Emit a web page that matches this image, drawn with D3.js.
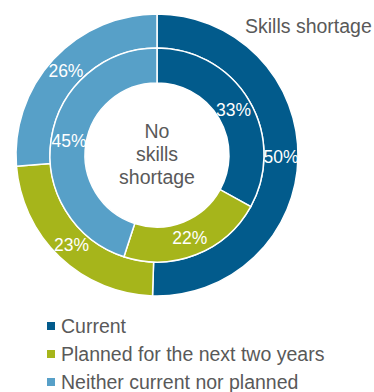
<!DOCTYPE html>
<html><head><meta charset="utf-8">
<script src="https://cdn.jsdelivr.net/npm/d3@7"></script>
<style>html,body{margin:0;padding:0;background:#fff}svg{display:block}</style>
</head><body>
<script>
const categories = ["Current", "Planned for the next two years", "Neither current nor planned"];
const colors = ["#025b8c", "#a6b51b", "#57a0c8"];
const skillsShortage = [50, 23, 26];   // outer ring
const noSkillsShortage = [33, 22, 45]; // inner ring
const outerTitle = "Skills shortage";
const centerLines = ["No", "skills", "shortage"];

const W = 374, H = 392;
const cx = 157, cy = 155;
const svg = d3.select("body").append("svg").attr("width", W).attr("height", H)
  .style("font-family", "'Liberation Sans', Arial, sans-serif");

const pie = d3.pie().sort(null).value(d => d);
const color = d3.scaleOrdinal().domain(d3.range(categories.length)).range(colors);

function ring(values, r0, r1, labelR) {
  const arc = d3.arc().innerRadius(r0).outerRadius(r1);
  const larc = d3.arc().innerRadius(labelR).outerRadius(labelR);
  const g = svg.append("g").attr("transform", `translate(${cx},${cy})`);
  const arcs = pie(values);
  g.selectAll("path").data(arcs).join("path")
    .attr("d", arc).attr("fill", (d, i) => color(i))
    .attr("stroke", "#fff").attr("stroke-width", 1.5);
  g.selectAll("text").data(arcs).join("text")
    .attr("transform", d => `translate(${larc.centroid(d)})`)
    .attr("text-anchor", "middle").attr("dy", "0.36em")
    .attr("fill", "#fff").style("font-size", "17.5px")
    .text(d => d.data + "%");
}
ring(skillsShortage, 107, 141, 124);
ring(noSkillsShortage, 72, 107, 89);

svg.append("text").attr("x", 245).attr("y", 33).attr("fill", "#595959")
  .style("font-size", "19.5px").text(outerTitle);

svg.append("g").selectAll("text").data(centerLines).join("text")
  .attr("x", cx).attr("y", (d, i) => 138 + i * 23)
  .attr("text-anchor", "middle").attr("fill", "#595959")
  .style("font-size", "19.5px").text(d => d);

const leg = svg.append("g").selectAll("g").data(categories).join("g")
  .attr("transform", (d, i) => `translate(47,${322 + i * 28})`);
leg.append("rect").attr("width", 8).attr("height", 8).attr("fill", (d, i) => color(i));
leg.append("text").attr("x", 14).attr("y", 11).attr("fill", "#595959")
  .style("font-size", "19.5px").text(d => d);
</script>
</body></html>
